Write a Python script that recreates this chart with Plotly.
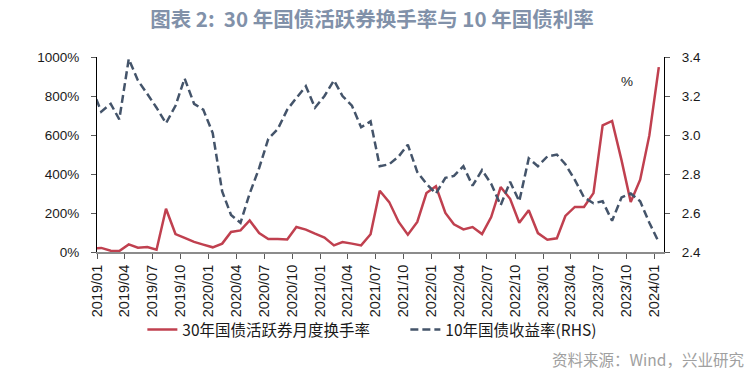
import plotly.graph_objects as go

# Months (data points sit mid-month; first month is partly clipped by the axis start)
months = ["2018/12",
          "2019/01", "2019/02", "2019/03", "2019/04", "2019/05", "2019/06",
          "2019/07", "2019/08", "2019/09", "2019/10", "2019/11", "2019/12",
          "2020/01", "2020/02", "2020/03", "2020/04", "2020/05", "2020/06",
          "2020/07", "2020/08", "2020/09", "2020/10", "2020/11", "2020/12",
          "2021/01", "2021/02", "2021/03", "2021/04", "2021/05", "2021/06",
          "2021/07", "2021/08", "2021/09", "2021/10", "2021/11", "2021/12",
          "2022/01", "2022/02", "2022/03", "2022/04", "2022/05", "2022/06",
          "2022/07", "2022/08", "2022/09", "2022/10", "2022/11", "2022/12",
          "2023/01", "2023/02", "2023/03", "2023/04", "2023/05", "2023/06",
          "2023/07", "2023/08", "2023/09", "2023/10", "2023/11", "2023/12",
          "2024/01"]

# 30年国债活跃券月度换手率 (%)
turnover = [18,
            21, 7, 5, 39, 22, 26,
            12, 222, 92, 72, 52, 38,
            24, 43, 103, 111, 162, 97,
            67, 67, 64, 128, 115, 94,
            74, 34, 51, 43, 34, 91,
            314, 256, 154, 89, 154, 302,
            337, 200, 142, 116, 128, 92,
            179, 333, 273, 150, 214, 97,
            63, 70, 185, 231, 231, 302,
            649, 672, 470, 256, 371, 598,
            948]

# 10年国债收益率 (%, RHS)
yield10 = [3.24,
           3.12, 3.16, 3.08, 3.39, 3.28, 3.21,
           3.14, 3.06, 3.15, 3.29, 3.16, 3.13,
           3.01, 2.71, 2.59, 2.55, 2.70, 2.83,
           2.98, 3.03, 3.13, 3.19, 3.25, 3.14,
           3.20, 3.28, 3.20, 3.15, 3.04, 3.07,
           2.84, 2.85, 2.89, 2.95, 2.81, 2.75,
           2.70, 2.78, 2.79, 2.84, 2.74, 2.82,
           2.75, 2.64, 2.76, 2.66, 2.88, 2.84,
           2.89, 2.90, 2.85, 2.77, 2.68, 2.65,
           2.66, 2.56, 2.68, 2.70, 2.66, 2.55,
           2.45]

tick_labels = ["2019/01", "2019/04", "2019/07", "2019/10", "2020/01", "2020/04",
               "2020/07", "2020/10", "2021/01", "2021/04", "2021/07", "2021/10",
               "2022/01", "2022/04", "2022/07", "2022/10", "2023/01", "2023/04",
               "2023/07", "2023/10", "2024/01"]

left_ticks = [0, 200, 400, 600, 800, 1000]
left_labels = ["0%", "200%", "400%", "600%", "800%", "1000%"]
right_ticks = [2.4, 2.6, 2.8, 3.0, 3.2, 3.4]
right_labels = ["2.4", "2.6", "2.8", "3.0", "3.2", "3.4"]

x_dates = [m.replace("/", "-") + "-15" for m in months]
tick_dates = [t.replace("/", "-") + "-01" for t in tick_labels]

RED = "#C0404F"
NAVY = "#44546A"
SANS = "Liberation Sans, Arial, sans-serif"
CJK = "Noto Sans CJK SC, sans-serif"

fig = go.Figure()
fig.add_trace(go.Scatter(
    x=x_dates, y=turnover, mode="lines", name="30年国债活跃券月度换手率",
    line=dict(color=RED, width=2.5), yaxis="y"))
fig.add_trace(go.Scatter(
    x=x_dates, y=yield10, mode="lines", name="10年国债收益率(RHS)",
    line=dict(color=NAVY, width=2.5, dash="8px,4px"), yaxis="y2"))

fig.update_layout(
    width=756, height=380,
    margin=dict(l=97, r=92, t=57, b=128, pad=0, autoexpand=False),
    paper_bgcolor="white", plot_bgcolor="white",
    title=dict(text="<b>图表 2:  30 年国债活跃券换手率与 10 年国债利率</b>",
               x=0.492, xanchor="center", y=0.948, yanchor="middle",
               font=dict(family=CJK, size=20.5, color="#8191A9")),
    xaxis=dict(type="date", range=["2019-01-01", "2024-02-01"],
               tickvals=tick_dates, ticktext=tick_labels, tickangle=-90,
               showgrid=False, zeroline=False,
               showline=True, linecolor="#8C8C8C", linewidth=2,
               ticks="outside", ticklen=5, tickcolor="#595959", tickwidth=1,
               tickfont=dict(family=SANS, size=14.5, color="#1a1a1a")),
    yaxis=dict(range=[0, 1000], tickvals=left_ticks, ticktext=left_labels,
               showgrid=False, zeroline=False,
               showline=True, linecolor="black", linewidth=1,
               ticks="outside", ticklen=5, tickcolor="#595959",
               ticklabelstandoff=9,
               tickfont=dict(family=SANS, size=13.5, color="#1a1a1a")),
    yaxis2=dict(range=[2.4, 3.4], tickvals=right_ticks, ticktext=right_labels,
                overlaying="y", side="right",
                showgrid=False, zeroline=False,
                showline=True, linecolor="black", linewidth=1,
                ticks="outside", ticklen=5, tickcolor="#595959",
                ticklabelstandoff=9,
                tickfont=dict(family=SANS, size=13.5, color="#1a1a1a")),
    legend=dict(orientation="h", x=0.08, xanchor="left", y=-0.40, yanchor="middle",
                font=dict(family=CJK, size=15.5, color="#1a1a1a"),
                entrywidth=218,
                bgcolor="rgba(0,0,0,0)", traceorder="normal"),
    showlegend=True,
)

fig.add_annotation(text="%", xref="paper", yref="paper", x=0.948, y=0.921,
                   showarrow=False, font=dict(family=SANS, size=13.5, color="#1a1a1a"))
fig.add_annotation(text="资料来源：Wind，兴业研究", xref="paper", yref="paper",
                   x=(746 - 97) / 567, xanchor="right", y=(251.7 - 359) / 195, yanchor="middle",
                   showarrow=False, font=dict(family=CJK, size=15.5, color="#A0A0A0"))

fig.write_html("out.html", config={"displayModeBar": False},
               post_script="document.body.style.margin='0px';document.body.style.padding='0px';")
